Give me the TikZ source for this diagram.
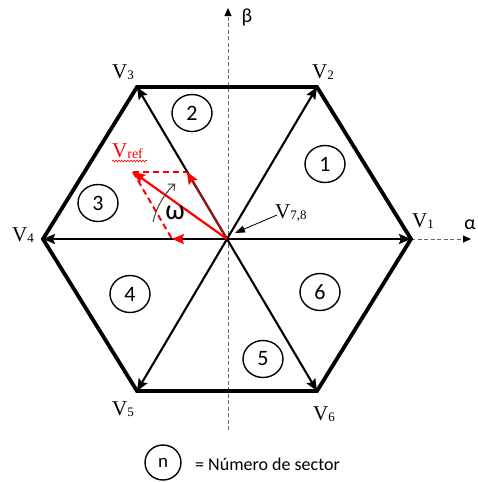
\documentclass[tikz,border=0pt]{standalone}
\usepackage{fontspec}
\setmainfont{Liberation Serif}
\newfontfamily\calib{Carlito}
\usetikzlibrary{arrows.meta,shapes.geometric,decorations.pathmorphing}
\newcommand{\vsub}[1]{\raisebox{-1.5pt}{\fontsize{13}{13}\selectfont #1}}
\definecolor{darkred}{RGB}{160,20,20}
\begin{document}
\begin{tikzpicture}[x=1pt,y=1pt,
  hexline/.style={line width=3.8pt, line join=miter},
  spoke/.style={line width=2.1pt, -{Stealth[length=12pt,width=10pt,inset=2pt]}},
  axisline/.style={dash pattern=on 4pt off 2.5pt, line width=1pt, black!60, -{Triangle[length=8pt,width=7pt,black]}},
  sector/.style={draw, line width=1.4pt, ellipse, minimum width=40pt, minimum height=37pt, inner sep=0pt, font=\calib\fontsize{22}{22}\selectfont},
  vlab/.style={anchor=base west, inner sep=0pt, font=\fontsize{21}{21}\selectfont},
  greek/.style={inner sep=0pt, font=\calib\fontsize{20}{20}\selectfont},
  redarrow/.style={red, line width=2.2pt, -{Stealth[length=12pt,width=10pt,inset=2pt]}},
  reddash/.style={red, line width=2pt, dash pattern=on 6pt off 4pt},
  omegaarrow/.style={black!75, line width=1pt, -{Straight Barb[length=5pt,width=9pt]}}
]
\useasboundingbox (0,0) rectangle (477,-482);

% coordinates
\coordinate (O) at (227,-239);
\coordinate (P1) at (411,-239);
\coordinate (P2) at (317,-87);
\coordinate (P3) at (137,-87);
\coordinate (P4) at (43,-239);
\coordinate (P5) at (137,-391);
\coordinate (P6) at (317,-391);
\coordinate (R) at (133,-172);
\coordinate (A) at (187,-172);
\coordinate (B) at (172,-239);
\coordinate (betaB) at (228,-430);
\coordinate (betaT) at (228,-8);
\coordinate (alphaT) at (471,-239);

% axes
\draw[axisline] (betaB) -- (betaT);
\draw[axisline] (P1) -- (alphaT);
\node[greek] (beta) at (247,-17) {β};
\node[greek] (alpha) at (470,-225) {α};

% hexagon
\draw[hexline] (P1) -- (P2) -- (P3) -- (P4) -- (P5) -- (P6) -- cycle;

% spokes
\foreach \p in {P1,P2,P3,P4,P5,P6}
  \draw[spoke] (O) -- (\p);

% vertex labels
\node[vlab] (v1) at (412,-227) {V\vsub{1}};
\node[vlab] (v2) at (312,-78) {V\vsub{2}};
\node[vlab] (v3) at (112,-78) {V\vsub{3}};
\node[vlab] (v4) at (12,-241) {V\vsub{4}};
\node[vlab] (v5) at (112,-415) {V\vsub{5}};
\node[vlab] (v6) at (313,-420) {V\vsub{6}};
\node[vlab] (v78) at (275,-218) {V\vsub{7,8}};
\coordinate (s78) at (277,-215);
\coordinate (t78) at (235,-233);
\draw[line width=0.8pt, -{Triangle[length=10pt,width=7pt]}] (s78) -- (t78);

% sectors
\node[sector] (s1) at (325,-164) {1};
\node[sector] (s2) at (192,-113) {2};
\node[sector] (s3) at (98,-203) {3};
\node[sector] (s4) at (130,-294) {4};
\node[sector] (s5) at (263,-359) {5};
\node[sector] (s6) at (320,-292) {6};

% reference vector construction
\draw[reddash] (R) -- (A);
\draw[reddash] (R) -- (B);
\draw[darkred, line width=2pt, -{Stealth[length=12pt,width=10pt,inset=2pt,red]}] (O) -- (A);
\draw[black, line width=2pt, -{Stealth[length=12pt,width=10pt,inset=2pt,red]}] (O) -- (B);
\draw[redarrow] (O) -- (R);
\node[vlab, red] (vref) at (112,-157) {V\raisebox{-1pt}{\fontsize{14}{14}\selectfont ref}};
\coordinate (w1) at (112,-161);
\coordinate (w2) at (147,-161);
\draw[red, line width=0.6pt, decorate, decoration={snake, amplitude=0.9pt, segment length=3pt}] (w1) -- (w2);

% omega
\draw[omegaarrow] (153,-222) arc[start angle=167, end angle=133, radius=76];
\node[inner sep=0pt, font=\calib\fontsize{28}{28}\selectfont] (omega) at (175,-213) {ω};

% legend
\node[draw, line width=1.4pt, ellipse, minimum width=36pt, minimum height=35pt, inner sep=0pt, font=\calib\fontsize{19}{19}\selectfont] (leg) at (163,-462.5) {n};
\node[anchor=base west, inner sep=0pt, font=\calib\fontsize{18}{18}\selectfont] (legtext) at (195,-470) {= Número de sector};
\end{tikzpicture}
\end{document}
